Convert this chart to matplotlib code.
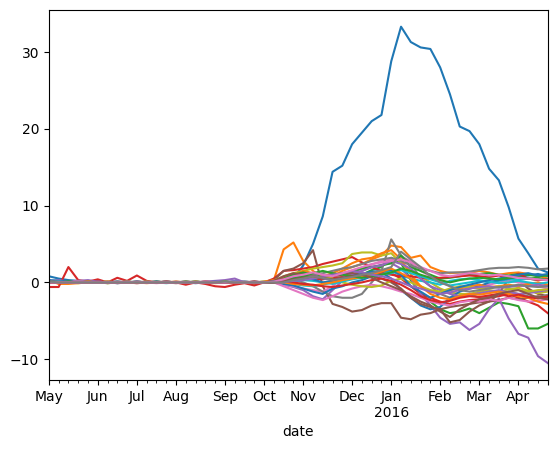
import matplotlib
matplotlib.use("Agg")
import matplotlib.pyplot as plt
import pandas as pd

dates = pd.date_range("2015-05-03", periods=52, freq="W")

s0 = [0.8, 0.5, 0.3, 0.2, 0.1, 0.0, 0.0, -0.1, 0.0, 0.1, 0.0, 0.0, 0.1, 0.0, 0.0, -0.1, 0.0, 0.0, 0.1, 0.0, 0.0, 0.0, 0.1,
      0.2, 0.3, 0.5, 2.2, 5.0, 8.6, 14.4, 15.2, 18.0, 19.5, 21.0, 21.8, 28.8, 33.3, 31.3, 30.6, 30.4, 28.0, 24.5, 20.3,
      19.7, 18.0, 14.8, 13.3, 9.8, 5.7, 3.8, 1.8, 1.3]
s1 = [0.3, -0.2, -0.2, -0.1, 0.0, 0.1, -0.1, 0.0, 0.0, -0.1, 0.0, 0.1, 0.0, 0.0, -0.1, 0.0, 0.0, 0.1, 0.0, -0.1, 0.0, -0.2, 0.0,
      0.3, 4.3, 5.2, 2.8, 1.5, 0.5, 0.8, 1.5, 2.0, 2.4, 3.0, 3.5, 4.8, 4.6, 3.2, 3.5, 2.0, 1.5, 1.2, 1.3, 1.2, 1.5, 1.3, 1.0,
      1.2, 1.3, 1.1, 0.9, 0.5]
s2 = [0.1, 0.0, 0.1, 0.0, 0.1, 0.0, -0.1, 0.0, 0.1, 0.0, 0.0, 0.0, 0.1, 0.0, -0.1, 0.0, 0.1, 0.0, 0.0, 0.1, 0.0, 0.0, 0.0,
      0.1, 0.3, 0.9, 1.2, 0.8, 0.5, 0.6, 0.2, 0.5, 1.0, 1.6, 2.0, 3.2, 2.5, 0.3, -1.5, -2.5, -3.5, -4.0, -3.8, -3.4, -4.0,
      -3.3, -2.6, -2.8, -3.1, -6.0, -6.0, -5.4]
s3 = [-0.6, -0.6, 2.0, 0.3, 0.1, 0.4, 0.0, 0.6, 0.2, 0.9, 0.2, 0.0, 0.1, 0.0, -0.3, 0.0, -0.2, -0.5, -0.6, -0.3, -0.1, -0.4, 0.0,
      0.5, 1.5, 1.6, 1.8, 2.0, 2.4, 2.7, 3.0, 3.3, 2.6, 2.0, 1.5, 1.2, 0.5, -0.5, -1.5, -2.0, -2.5, -2.8, -2.5, -2.3, -2.2,
      -2.0, -1.8, -1.5, -2.0, -2.5, -3.0, -4.0]
s4 = [0.2, 0.3, 0.1, 0.2, 0.3, 0.1, 0.0, 0.1, 0.0, -0.1, 0.0, 0.1, 0.0, 0.0, 0.1, 0.0, 0.1, 0.2, 0.3, 0.5, 0.0, 0.1, 0.0,
      0.0, -0.3, -0.6, -1.0, -1.8, -2.2, -1.0, 0.2, 1.0, 1.5, 2.0, 2.3, 2.5, 1.8, 0.5, -1.5, -3.0, -4.6, -5.4, -5.2, -6.2,
      -5.4, -3.5, -2.1, -4.7, -6.7, -7.2, -9.6, -10.5]
s5 = [0.0, 0.1, 0.0, 0.1, 0.0, 0.0, 0.1, -0.1, 0.0, 0.0, 0.1, 0.0, 0.0, -0.1, 0.0, 0.1, 0.0, 0.0, 0.0, 0.1, 0.0, -0.1, 0.0,
      0.3, 1.5, 1.8, 2.5, 4.2, -0.5, -2.8, -3.2, -3.8, -3.6, -3.0, -2.7, -2.7, -4.6, -4.8, -4.2, -4.0, -3.5, -5.2, -4.9,
      -3.8, -3.0, -2.5, -1.5, 0.5, 0.3, -0.8, -1.5, -1.8]
s6 = [0.1, 0.0, 0.0, 0.2, 0.0, 0.1, 0.0, 0.0, 0.1, 0.0, 0.0, -0.1, 0.0, 0.0, 0.1, 0.0, 0.0, 0.1, 0.0, 0.0, 0.1, 0.0, 0.0,
      0.0, -0.3, -0.5, -0.8, -1.0, -1.2, -0.5, 0.5, 1.2, 1.8, 2.3, 2.8, 3.0, 3.3, 2.8, 1.5, 0.8, 0.3, -0.5, -1.0, -0.8,
      -0.5, -0.3, 0.0, 0.2, 0.0, -0.2, -0.5, -0.8]
s7 = [0.2, 0.1, 0.0, 0.0, 0.1, 0.0, 0.0, 0.1, 0.0, 0.0, 0.0, 0.1, 0.0, 0.0, 0.0, 0.0, 0.1, 0.0, 0.0, 0.0, 0.0, 0.1, 0.0,
      0.2, 0.5, 0.3, 0.0, -0.5, -1.2, -1.8, -2.0, -2.0, -1.5, 0.0, 1.5, 5.6, 3.5, 2.5, 0.5, -0.5, -1.5, -2.0, -1.8, -1.5,
      -2.0, -1.8, -1.5, -1.2, -1.5, -1.8, -2.0, -1.6]
s8 = [0.0, 0.1, 0.0, -0.1, 0.0, 0.0, 0.1, 0.0, 0.0, 0.1, 0.0, 0.0, 0.0, 0.1, 0.0, 0.0, 0.0, -0.1, 0.0, 0.0, 0.1, 0.0, 0.1,
      0.2, 0.8, 1.2, 1.5, 1.8, 2.0, 2.2, 2.5, 3.7, 3.9, 3.9, 3.5, 3.8, 2.5, 1.5, 0.8, 0.0, -0.8, -1.3, -1.5, -1.5, -1.2,
      -1.0, -1.2, -0.9, -0.7, -1.1, -1.4, -1.2]
s9 = [0.1, 0.0, 0.0, 0.1, 0.0, 0.0, 0.0, 0.0, 0.1, 0.0, 0.0, 0.0, -0.1, 0.0, 0.0, 0.1, 0.0, 0.0, 0.0, 0.0, 0.1, 0.0, 0.0,
      0.0, 0.1, -0.2, -0.4, -0.5, -0.3, 0.0, 0.3, 0.5, 0.8, 1.0, 1.2, 1.5, 0.9, 0.5, 0.2, 0.0, -0.3, 0.2, 0.4, 0.5, 0.3,
      0.0, 0.2, 0.4, 0.3, 0.5, 0.3, 0.4]
s10 = [0.3, 0.2, 0.1, 0.0, 0.0, 0.1, 0.0, 0.0, 0.0, 0.1, 0.0, 0.0, 0.0, 0.0, 0.1, 0.0, 0.0, 0.0, 0.1, 0.0, 0.0, 0.0, 0.0,
       0.0, -0.2, -0.4, -0.8, -1.2, -1.5, -0.8, -0.5, 0.0, 0.3, 0.8, 1.3, 0.5, -1.0, -2.0, -3.0, -3.5, -3.2, -2.0, -1.2,
       -0.8, -0.5, 0.0, 0.3, 0.5, 0.8, 0.9, 1.1, 0.8]
s11 = [0.1, -0.1, 0.0, 0.0, 0.1, 0.0, 0.0, 0.0, 0.1, 0.0, -0.1, 0.0, 0.0, 0.0, 0.1, 0.0, 0.0, 0.0, 0.0, 0.1, 0.0, 0.0, 0.1,
       0.3, 0.6, 0.9, 1.5, 1.2, 0.8, 1.2, 1.8, 2.5, 3.0, 3.2, 3.8, 4.2, 3.0, 1.0, -0.5, -1.2, -1.5, -1.0, -0.8, -0.5,
       -0.3, -0.6, -0.5, -0.3, -0.5, -0.2, 0.0, -0.3]
s12 = [0.0, 0.0, 0.1, 0.0, 0.0, 0.0, 0.1, 0.0, 0.0, 0.0, 0.0, 0.1, 0.0, 0.0, 0.0, 0.1, 0.0, 0.0, 0.1, 0.0, 0.0, 0.0, 0.0,
       0.1, 0.5, 1.0, 1.3, 1.0, 0.7, 0.9, 1.2, 1.4, 1.8, 2.0, 2.2, 2.5, 3.5, 2.0, 1.5, 1.0, 0.5, 0.6, 0.8, 1.0, 1.1, 1.2,
       1.0, 0.9, 1.1, 1.0, 0.8, 0.9]
s13 = [0.1, 0.0, 0.0, 0.0, 0.1, 0.0, 0.0, 0.1, 0.0, 0.0, 0.0, 0.0, 0.0, 0.1, 0.0, 0.0, 0.1, 0.0, 0.0, 0.0, 0.0, 0.1, 0.0,
       0.2, 0.4, 0.5, 0.6, 0.5, 0.4, 0.6, 0.7, 0.9, 1.0, 1.1, 1.2, 1.0, 0.8, 0.8, 0.6, 0.5, 0.6, 0.7, 0.8, 0.9, 0.8, 0.7,
       0.9, 0.6, 1.1, 0.5, 0.3, 0.4]
s14 = [0.0, 0.1, 0.0, 0.0, 0.0, 0.1, 0.0, 0.0, 0.0, 0.0, 0.1, 0.0, 0.0, 0.0, 0.0, 0.0, 0.0, 0.1, 0.0, 0.2, 0.1, 0.0, 0.0,
       0.0, 0.2, 0.4, 0.8, 1.0, 0.5, 0.3, 0.6, 1.0, 1.5, 2.0, 2.2, 2.8, 2.4, 1.8, 0.5, -0.5, -1.0, -1.5, -1.8, -1.6, -1.4,
       -1.2, -1.0, -1.3, -1.5, -1.4, -1.2, -1.0]
s15 = [0.1, 0.0, 0.0, 0.1, 0.0, 0.0, 0.0, 0.0, 0.0, 0.1, 0.0, 0.0, 0.1, 0.0, 0.0, 0.0, 0.0, 0.0, 0.0, 0.0, 0.0, 0.1, 0.0,
       0.2, 0.8, 1.2, 1.0, 0.8, 0.5, 0.8, 1.0, 1.2, 1.0, 0.8, 0.5, 0.0, -0.8, -2.0, -2.8, -3.2, -3.5, -3.2, -3.0, -2.8,
       -2.6, -2.5, -2.3, -2.0, -2.2, -2.0, -1.8, -2.0]
s16 = [0.0, 0.0, 0.0, 0.1, 0.0, 0.0, 0.1, 0.0, 0.0, 0.0, 0.0, 0.0, 0.1, 0.0, 0.0, 0.0, 0.1, 0.0, 0.0, 0.0, 0.0, 0.0, 0.0,
       0.0, -0.5, -1.0, -1.5, -2.0, -2.3, -1.8, -1.2, -0.8, -0.5, -0.3, -0.5, -0.8, -1.2, -1.5, -2.0, -2.5, -2.8, -3.0,
       -2.6, -2.4, -2.5, -2.2, -2.4, -2.0, -2.3, -2.5, -2.4, -2.2]
s17 = [0.2, 0.1, 0.0, 0.0, 0.0, 0.0, 0.0, 0.0, 0.1, 0.0, 0.0, 0.0, 0.0, 0.0, 0.0, 0.1, 0.0, 0.0, 0.0, 0.0, 0.0, 0.0, 0.0,
       0.1, 0.3, 0.5, 0.8, 1.0, 1.2, 1.5, 1.8, 2.0, 2.4, 2.8, 3.0, 3.2, 2.8, 2.2, 1.8, 1.5, 1.2, 1.3, 1.3, 1.4, 1.6, 1.8,
       1.9, 1.9, 2.0, 1.9, 1.7, 1.8]
s18 = [0.0, 0.0, 0.0, 0.0, 0.1, 0.0, 0.0, 0.0, 0.0, 0.0, 0.1, 0.0, 0.0, 0.0, 0.0, 0.0, 0.0, 0.0, 0.1, 0.0, 0.0, 0.0, 0.0,
       0.0, 0.2, 0.3, 0.4, 0.6, 0.8, 0.5, 0.0, -0.3, -0.5, -0.6, -0.4, 0.2, 0.5, 0.0, -0.5, -1.0, -1.2, -0.8, -0.5, -0.6,
       -0.8, -0.7, -0.5, -0.8, -1.0, -1.2, -1.0, -0.9]
s19 = [0.0, 0.1, 0.0, 0.0, 0.0, 0.0, 0.0, 0.1, 0.0, 0.0, 0.0, 0.0, 0.0, 0.0, 0.0, 0.0, 0.0, 0.0, 0.0, 0.1, 0.0, 0.0, 0.0,
       0.0, 0.1, 0.2, 0.3, 0.2, 0.0, -0.2, 0.1, 0.4, 0.6, 0.8, 1.0, 1.2, 1.6, 1.2, 0.8, 0.4, 0.0, -0.4, -0.2, 0.0, 0.2,
       0.1, -0.1, 0.0, 0.2, 0.0, -0.2, 0.0]
s20 = [0.1, 0.0, 0.0, 0.0, 0.0, 0.0, 0.0, 0.0, 0.0, 0.0, 0.0, 0.1, 0.0, 0.0, 0.0, 0.0, 0.0, 0.1, 0.0, 0.0, 0.0, 0.0, 0.0,
       0.1, 0.3, 0.6, 0.8, 0.4, 0.0, 0.2, 0.5, 0.8, 1.1, 1.4, 1.5, 1.6, 1.0, -0.5, -1.2, -2.0, -1.5, -1.0, -0.6, -0.3, 0.0,
       0.3, 0.5, 0.8, 1.0, 1.2, 0.9, 1.1]
s21 = [0.0, 0.0, 0.0, 0.0, 0.0, 0.0, 0.1, 0.0, 0.0, 0.0, 0.0, 0.0, 0.0, 0.0, 0.0, 0.1, 0.0, 0.0, 0.0, 0.0, 0.0, 0.0, 0.0,
       0.0, 0.0, -0.2, -0.3, -0.4, -0.2, 0.0, 0.3, 0.5, 0.7, 1.0, 1.4, 1.8, 1.2, 0.5, -0.5, -1.5, -2.0, -2.2, -1.8, -1.5,
       -1.6, -1.4, -1.2, -1.5, -1.8, -2.0, -2.5, -2.8]
s22 = [0.0, 0.0, 0.1, 0.0, 0.0, 0.0, 0.0, 0.0, 0.0, 0.0, 0.0, 0.0, 0.0, 0.0, 0.1, 0.0, 0.0, 0.0, 0.0, 0.0, 0.0, 0.0, 0.0,
       0.0, 0.2, 0.5, 0.8, 1.2, 1.5, 1.2, 1.0, 0.8, 0.6, 0.8, 1.0, 1.3, 1.8, 1.5, 1.0, 0.6, 0.3, 0.0, 0.3, 0.5, 0.6, 0.5,
       0.4, 0.6, 0.7, 0.5, 0.6, 0.3]
s23 = [0.0, 0.0, 0.0, 0.0, 0.0, 0.1, 0.0, 0.0, 0.0, 0.0, 0.0, 0.0, 0.0, 0.0, 0.0, 0.0, 0.0, 0.0, 0.0, 0.0, 0.0, 0.0, 0.0,
       0.0, 0.1, 0.0, -0.2, -0.3, -0.5, -0.6, -0.4, -0.2, 0.0, 0.3, 0.5, 0.2, -0.3, -1.0, -1.8, -2.3, -2.6, -2.4, -2.0,
       -1.8, -1.9, -1.7, -1.5, -1.8, -1.6, -1.9, -2.1, -1.8]
s24 = [0.0, 0.0, 0.0, 0.0, 0.0, 0.0, 0.0, 0.0, 0.0, 0.1, 0.0, 0.0, 0.0, 0.0, 0.0, 0.0, 0.0, 0.0, 0.0, 0.1, 0.0, 0.0, 0.0,
       0.0, 0.0, 0.2, 0.3, 0.5, 0.8, 1.0, 1.2, 1.5, 1.3, 1.0, 0.8, 0.5, 0.0, -0.5, -0.8, -1.2, -1.5, -1.3, -1.0, -0.8,
       -0.6, -0.5, -0.7, -0.6, -0.4, -0.5, -0.3, -0.5]
s25 = [0.0, 0.0, 0.0, 0.0, 0.0, 0.0, 0.0, 0.0, 0.0, 0.0, 0.0, 0.0, 0.1, 0.0, 0.0, 0.0, 0.0, 0.0, 0.0, 0.0, 0.0, 0.0, 0.0,
       0.0, 0.2, 0.4, 0.6, 0.8, 0.6, 0.4, 0.6, 0.8, 1.0, 0.6, 0.0, -0.5, -1.0, -1.8, -2.5, -3.0, -3.8, -4.5, -3.5, -2.8,
       -2.2, -2.0, -1.5, -1.2, -1.0, -1.5, -2.0, -2.2]
s26 = [0.0, 0.0, 0.0, 0.0, 0.0, 0.0, 0.0, 0.0, 0.0, 0.0, 0.0, 0.0, 0.0, 0.0, 0.0, 0.0, 0.0, 0.0, 0.0, 0.0, 0.0, 0.0, 0.0,
       0.1, 0.4, 0.8, 1.0, 1.3, 1.0, 0.8, 1.2, 1.6, 2.0, 2.4, 2.6, 2.8, 3.0, 2.6, 2.0, 1.5, 1.0, 0.8, 1.0, 1.2, 1.1, 0.9,
       1.0, 0.8, 0.6, 0.5, 0.4, 0.3]
s27 = [0.1, 0.0, 0.0, 0.0, 0.0, 0.0, 0.0, 0.0, 0.0, 0.0, 0.0, 0.0, 0.0, 0.0, 0.0, 0.0, 0.0, 0.0, 0.1, 0.0, 0.0, 0.0, 0.0,
       0.0, 0.0, 0.3, 0.5, 0.8, 0.6, 0.3, 0.5, 0.7, 1.0, 1.2, 1.6, 2.0, 4.0, 3.0, 2.0, 0.8, 0.0, -0.5, -1.0, -1.2, -1.0,
       -0.8, -0.6, -0.5, -0.3, -0.5, -0.6, -0.5]

series = [s0, s1, s2, s3, s4, s5, s6, s7, s8, s9, s10, s11, s12, s13,
          s14, s15, s16, s17, s18, s19, s20, s21, s22, s23, s24, s25, s26, s27]

df = pd.DataFrame({"s%d" % i: s for i, s in enumerate(series)}, index=dates)
df.index.name = "date"

fig, ax = plt.subplots(figsize=(5.55, 4.49), dpi=100)
df.plot(ax=ax, legend=False)
fig.subplots_adjust(left=0.088, right=0.987, top=0.978, bottom=0.154)
fig.savefig("out.png", dpi=100)
